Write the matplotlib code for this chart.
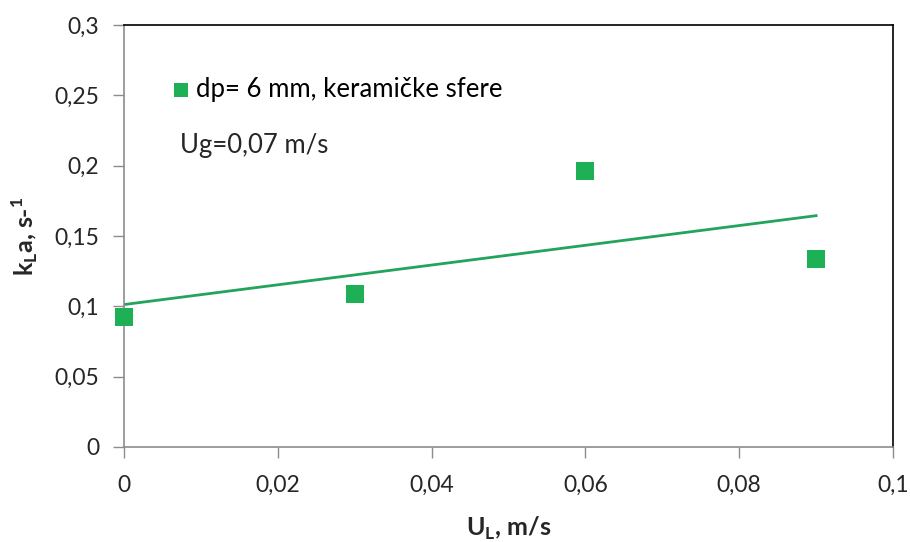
import matplotlib
matplotlib.use("Agg")
import matplotlib.pyplot as plt
import numpy as np
from matplotlib.ticker import FuncFormatter, MultipleLocator

# Data
u_l = [0.0, 0.03, 0.06, 0.09]
kla = [0.0926, 0.1088, 0.1964, 0.1336]
series_label = "dp= 6 mm, keramičke sfere"
note_text = "Ug=0,07 m/s"

plt.rcParams["font.family"] = ["Lato", "DejaVu Sans"]
plt.rcParams["mathtext.fontset"] = "custom"
plt.rcParams["mathtext.rm"] = "Lato"
plt.rcParams["mathtext.bf"] = "Lato:bold"

marker_color = "#1DB054"
line_color = "#22A45C"
spine_gray = "#8C8C8C"
text_color = "#262626"

fig = plt.figure(figsize=(9.1, 5.42), dpi=100)
ax = fig.add_axes([0.1363, 0.1753, 0.845, 0.7786])

ax.scatter(u_l, kla, marker="s", s=150, color=marker_color, zorder=3,
           label=series_label, linewidths=0, clip_on=False)

# linear trend line over the data range
coef = np.polyfit(u_l, kla, 1)
xs = np.array([min(u_l), max(u_l)])
ax.plot(xs, np.polyval(coef, xs), color=line_color, linewidth=2, zorder=2)

ax.set_xlim(0, 0.1)
ax.set_ylim(0, 0.3)
ax.xaxis.set_major_locator(MultipleLocator(0.02))
ax.yaxis.set_major_locator(MultipleLocator(0.05))
fmt = FuncFormatter(lambda v, _: f"{round(v, 4):g}".replace(".", ","))
ax.xaxis.set_major_formatter(fmt)
ax.yaxis.set_major_formatter(fmt)

ax.tick_params(axis="both", direction="out", length=8, width=1,
               color=spine_gray, labelsize=16.5, labelcolor=text_color)
ax.tick_params(axis="x", pad=12)
ax.tick_params(axis="y", pad=10)

ax.spines["left"].set_color(spine_gray)
ax.spines["bottom"].set_color(spine_gray)
ax.spines["top"].set_color("black")
ax.spines["right"].set_color("black")
for s in ax.spines.values():
    s.set_linewidth(1.2)

ax.set_xlabel(r"U$_\mathbf{L}$, m/s", fontsize=18, fontweight="bold",
              color=text_color, labelpad=14)
ax.set_ylabel(r"k$_\mathbf{L}$a, s-$^\mathbf{1}$", fontsize=18,
              fontweight="bold", color=text_color, labelpad=10)

ax.legend(loc="upper left", bbox_to_anchor=(0.034, 0.92), frameon=False,
          fontsize=18.5, handlelength=1.0, handletextpad=0.1,
          markerscale=0.85, borderpad=0.2)

ax.text(0.073, 0.715, note_text, transform=ax.transAxes, fontsize=18.5,
        color=text_color, va="center")

fig.savefig("out.png", dpi=100)
